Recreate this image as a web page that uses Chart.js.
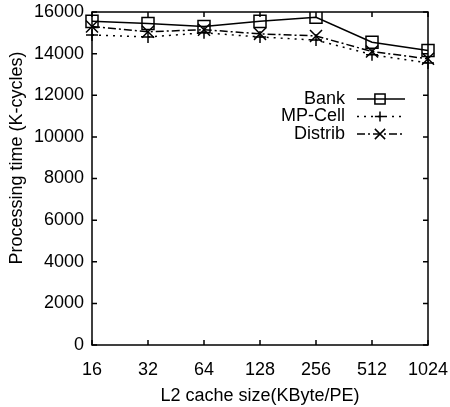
<!DOCTYPE html>
<html>
<head>
<meta charset="utf-8">
<script src="https://cdn.jsdelivr.net/npm/chart.js@4"></script>
<style>
  body { margin: 0; background: #fff; }
  #wrap { width: 450px; height: 407px; }
</style>
</head>
<body>
<div id="wrap"><canvas id="chart"></canvas></div>
<script>
const cacheSizes = ["16", "32", "64", "128", "256", "512", "1024"];
const bank = [15550, 15450, 15300, 15550, 15750, 14550, 14150];
const mpCell = [14900, 14800, 15000, 14800, 14650, 13950, 13550];
const distrib = [15300, 15050, 15150, 14950, 14850, 14100, 13750];
const yTitle = "Processing time (K-cycles)";
const xTitle = "L2 cache size(KByte/PE)";

const FONT = "'Liberation Sans', Arial, sans-serif";

// frame, inward ticks, legend and y title
const framePlugin = {
  id: "frame",
  afterDatasetsDraw(chart) {
    const ctx = chart.ctx;
    const a = chart.chartArea;
    const xs = chart.scales.x;
    const ys = chart.scales.y;
    ctx.save();
    ctx.strokeStyle = "#000";
    ctx.lineWidth = 1.5;
    ctx.strokeRect(a.left, a.top, a.right - a.left, a.bottom - a.top);
    ctx.beginPath();
    xs.ticks.forEach((t, i) => {
      const x = xs.getPixelForTick(i);
      ctx.moveTo(x, a.bottom); ctx.lineTo(x, a.bottom - 5);
      ctx.moveTo(x, a.top); ctx.lineTo(x, a.top + 5);
    });
    ys.ticks.forEach((t, i) => {
      const y = ys.getPixelForTick(i);
      ctx.moveTo(a.left, y); ctx.lineTo(a.left + 5, y);
      ctx.moveTo(a.right, y); ctx.lineTo(a.right - 5, y);
    });
    ctx.stroke();

    // legend
    ctx.font = "18px " + FONT;
    ctx.textAlign = "right";
    ctx.textBaseline = "middle";
    chart.data.datasets.forEach((ds, i) => {
      const y = 99 + i * 17.5;
      ctx.fillStyle = "#000";
      ctx.fillText(ds.label, 345, y);
      ctx.beginPath();
      ctx.setLineDash(ds.borderDash || []);
      ctx.lineWidth = ds.borderWidth;
      ctx.moveTo(357, y); ctx.lineTo(405, y);
      ctx.stroke();
      ctx.setLineDash([]);
      ctx.lineWidth = 1.5;
      ctx.fillStyle = "rgba(0,0,0,0)";
      Chart.helpers.drawPoint(ctx, {
        pointStyle: ds.pointStyle, radius: ds.pointRadius * 0.85,
        borderWidth: 1.5
      }, 380, y);
    });

    // y axis title
    ctx.fillStyle = "#000";
    ctx.translate(17, 158);
    ctx.rotate(-Math.PI / 2);
    ctx.textAlign = "center";
    ctx.fillText(yTitle, 0, 0);
    ctx.restore();
  }
};

const common = {
  borderColor: "#000",
  pointBorderColor: "#000",
  pointBackgroundColor: "rgba(0,0,0,0)",
  pointBorderWidth: 1.5,
  borderWidth: 1.5,
  tension: 0
};

new Chart(document.getElementById("chart"), {
  type: "line",
  data: {
    labels: cacheSizes,
    datasets: [
      { ...common, label: "Bank", data: bank, pointStyle: "rect", pointRadius: 8.5 },
      { ...common, label: "MP-Cell", data: mpCell, pointStyle: "cross", pointRadius: 6, borderDash: [2, 5] },
      { ...common, label: "Distrib", data: distrib, pointStyle: "crossRot", pointRadius: 8.5, borderDash: [8, 3, 2, 3] }
    ]
  },
  options: {
    responsive: true,
    maintainAspectRatio: false,
    animation: false,
    layout: { padding: { top: 12, right: 22, left: 0, bottom: 0 } },
    plugins: { legend: { display: false }, tooltip: { enabled: false } },
    scales: {
      x: {
        grid: { display: false, drawTicks: false },
        border: { display: false },
        ticks: { color: "#000", font: { size: 18, family: FONT }, padding: 14, maxRotation: 0 },
        title: { display: true, text: xTitle, color: "#000", font: { size: 18, family: FONT }, padding: { top: 0, bottom: 0 } },
        afterFit(s) { s.height = 62; s.paddingLeft = 0; s.paddingRight = 0; }
      },
      y: {
        min: 0,
        max: 16000,
        grid: { display: false, drawTicks: false },
        border: { display: false },
        ticks: { stepSize: 2000, color: "#000", font: { size: 18, family: FONT }, padding: 8, callback: v => String(v) },
        afterFit(s) { s.width = 92; s.paddingTop = 0; s.paddingBottom = 0; }
      }
    }
  },
  plugins: [framePlugin]
});
</script>
</body>
</html>
